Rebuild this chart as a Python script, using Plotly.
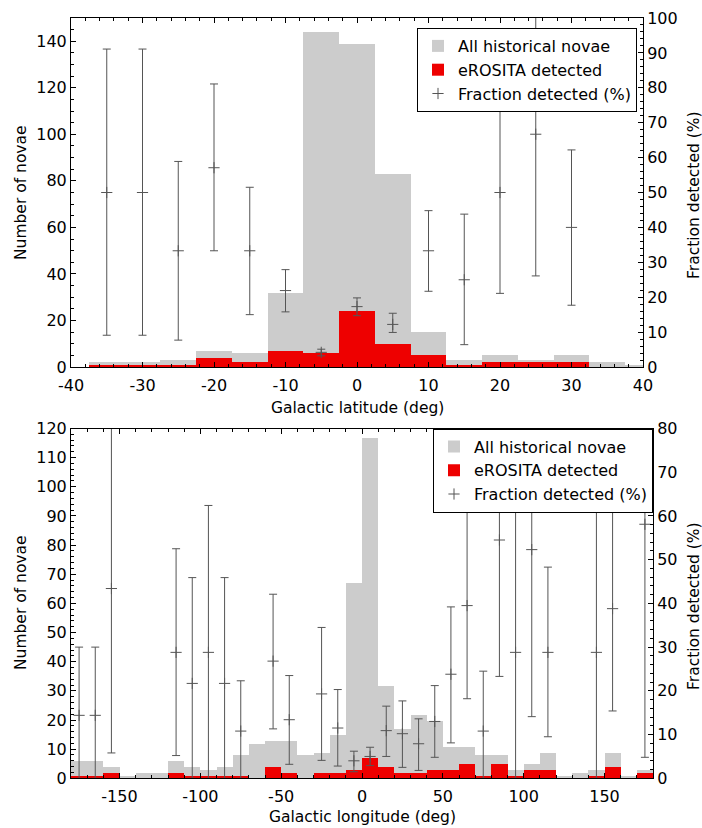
import plotly.graph_objects as go

W, H = 702, 828
FONT = "DejaVu Sans"
GRAY = "#cccccc"
RED = "#ee0000"
ERR = "#555555"

# ---- Galactic latitude histogram (5 deg bins) ----
lat_centers = [-35, -30, -25, -20, -15, -10, -5, 0, 5, 10, 15, 20, 25, 30, 35, 40]
lat_all = [2, 2, 3, 7, 6, 32, 144, 139, 83, 15, 3, 5, 3, 5, 2, 1]
lat_det = [1, 1, 1, 4, 2, 7, 6, 24, 10, 5, 1, 2, 2, 2, 0, 0]

# detected fraction (%) with lower / upper bounds
lat_frac_x = [-35, -30, -25, -20, -15, -10, -5, 0, 5, 10, 15, 20, 25, 30]
lat_frac = [50.0, 50.0, 33.3, 57.1, 33.3, 21.9, 4.2, 17.3, 12.2, 33.3, 25.0, 50.0, 66.7, 40.0]
lat_frac_lo = [9.1, 9.1, 7.7, 33.3, 15.0, 15.8, 3.2, 14.7, 9.9, 21.7, 6.4, 21.1, 26.1, 17.7]
lat_frac_hi = [91.1, 91.1, 58.9, 81.1, 51.5, 27.9, 5.1, 19.8, 15.4, 44.8, 43.8, 79.0, 107.0, 62.2]

lat_ticks = [-40, -30, -20, -10, 0, 10, 20, 30, 40]
lat_ticktext = ["-40", "-30", "-20", "-10", "0", "10", "20", "30", "40"]

# ---- Galactic longitude histogram (10 deg bins) ----
lon_centers = [-175, -165, -155, -145, -135, -125, -115, -105, -95, -85, -75, -65,
               -55, -45, -35, -25, -15, -5, 5, 15, 25, 35, 45, 55,
               65, 75, 85, 95, 105, 115, 125, 135, 145, 155, 165, 175]
lon_all = [6, 6, 4, 1, 2, 2, 6, 4, 3, 4, 8, 12,
           13, 13, 8, 9, 15, 67, 117, 32, 17, 22, 20, 11,
           11, 8, 8, 3, 5, 9, 1, 2, 3, 9, 1, 3]
lon_det = [1, 1, 2, 0, 0, 0, 2, 1, 1, 1, 1, 0,
           4, 2, 0, 2, 2, 3, 7, 4, 2, 2, 3, 3,
           5, 1, 5, 1, 3, 3, 0, 0, 1, 4, 0, 2]

lon_frac_x = [-175, -165, -155, -115, -105, -95, -85, -75, -55, -45, -25, -15, -5,
              5, 15, 25, 35, 45, 55, 65, 75, 85, 95, 105, 115, 145, 155, 175]
lon_frac = [14.4, 14.4, 43.4, 28.8, 21.7, 28.8, 21.7, 10.8, 26.8, 13.4, 19.3, 11.5, 4.0,
            5.0, 10.9, 10.2, 7.9, 13.0, 23.8, 39.5, 10.8, 54.5, 28.8, 52.3, 28.8, 28.8, 38.8, 58.1]
lon_frac_lo = [0.0, 0.0, 5.8, 5.2, 0.0, 0.0, 0.0, 0.0, 11.3, 3.2, 4.1, 2.8, 1.5,
               2.9, 5.0, 2.5, 1.8, 4.8, 8.1, 18.2, 0.0, 23.3, 0.0, 14.1, 9.5, 0.0, 15.4, 4.8]
lon_frac_hi = [30.0, 30.0, 100.0, 52.5, 45.9, 62.4, 45.9, 22.3, 42.1, 23.5, 34.5, 20.3, 6.2,
               7.1, 16.5, 17.7, 13.6, 21.2, 39.2, 60.9, 24.5, 86.0, 63.5, 90.0, 48.3, 63.5, 62.2, 95.0]

lon_ticks = [-150, -100, -50, 0, 50, 100, 150]
lon_ticktext = ["-150", "-100", "-50", "0", "50", "100", "150"]


def fx(p):
    return p / W


def fy(p):
    return 1 - p / H


def err(center, lo, hi):
    return dict(type="data", symmetric=False,
                array=[h - c for c, h in zip(center, hi)],
                arrayminus=[c - l for c, l in zip(center, lo)],
                color=ERR, thickness=1, width=4)


fig = go.Figure()

# top panel
fig.add_trace(go.Bar(x=lat_centers, y=lat_all, width=5, name="All historical novae",
                     marker=dict(color=GRAY, line=dict(width=0)),
                     xaxis="x", yaxis="y", legend="legend"))
fig.add_trace(go.Bar(x=lat_centers, y=lat_det, width=5, name="eROSITA detected",
                     marker=dict(color=RED, line=dict(width=0)),
                     xaxis="x", yaxis="y", legend="legend"))
fig.add_trace(go.Scatter(x=lat_frac_x, y=lat_frac, mode="markers", name="Fraction detected (%)",
                         marker=dict(symbol="cross-thin", size=8, color=ERR,
                                     line=dict(width=1, color=ERR)),
                         error_y=err(lat_frac, lat_frac_lo, lat_frac_hi),
                         xaxis="x", yaxis="y2", legend="legend"))

# bottom panel
fig.add_trace(go.Bar(x=lon_centers, y=lon_all, width=10, name="All historical novae",
                     marker=dict(color=GRAY, line=dict(width=0)),
                     xaxis="x2", yaxis="y3", legend="legend2"))
fig.add_trace(go.Bar(x=lon_centers, y=lon_det, width=10, name="eROSITA detected",
                     marker=dict(color=RED, line=dict(width=0)),
                     xaxis="x2", yaxis="y3", legend="legend2"))
fig.add_trace(go.Scatter(x=lon_frac_x, y=lon_frac, mode="markers", name="Fraction detected (%)",
                         marker=dict(symbol="cross-thin", size=8, color=ERR,
                                     line=dict(width=1, color=ERR)),
                         error_y=err(lon_frac, lon_frac_lo, lon_frac_hi),
                         xaxis="x2", yaxis="y4", legend="legend2"))

tickfont = dict(family=FONT, size=16, color="black")
common = dict(showline=True, linecolor="black", linewidth=1, ticks="inside",
              ticklen=5, tickcolor="black", showgrid=False, zeroline=False,
              tickfont=tickfont)

legend_style = dict(bgcolor="white", bordercolor="black", borderwidth=1,
                    font=dict(family=FONT, size=16, color="black"),
                    xanchor="right", yanchor="top", tracegroupgap=0)

fig.update_layout(
    width=W, height=H, template="none",
    paper_bgcolor="white", plot_bgcolor="white",
    margin=dict(l=0, r=0, t=0, b=0),
    barmode="overlay", bargap=0,
    font=dict(family=FONT, size=16, color="black"),
    xaxis=dict(domain=[fx(71), fx(643)], anchor="y", range=[-40, 40],
               tickvals=lat_ticks, ticktext=lat_ticktext, mirror="ticks",
               ticklabelstandoff=4,
               minor=dict(dtick=2, ticklen=3, ticks="inside", tickcolor="black"), **common),
    yaxis=dict(domain=[fy(367), fy(18)], anchor="x", range=[0, 150],
               tickvals=[0, 20, 40, 60, 80, 100, 120, 140],
               minor=dict(dtick=5, ticklen=3, ticks="inside", tickcolor="black"), **common),
    yaxis2=dict(overlaying="y", side="right", anchor="x", range=[0, 100], dtick=10,
                minor=dict(dtick=2, ticklen=3, ticks="inside", tickcolor="black"), **common),
    xaxis2=dict(domain=[fx(71), fx(653)], anchor="y3", range=[-180, 180],
                tickvals=lon_ticks, ticktext=lon_ticktext, mirror="ticks",
                ticklabelstandoff=3,
                minor=dict(dtick=10, ticklen=3, ticks="inside", tickcolor="black"), **common),
    yaxis3=dict(domain=[fy(778.3), fy(428.5)], anchor="x2", range=[0, 120], dtick=10,
                minor=dict(dtick=2, ticklen=3, ticks="inside", tickcolor="black"), **common),
    yaxis4=dict(overlaying="y3", side="right", anchor="x2", range=[0, 80], dtick=10,
                minor=dict(dtick=2, ticklen=3, ticks="inside", tickcolor="black"), **common),
    legend=dict(x=fx(637), y=fy(28), **legend_style),
    legend2=dict(x=fx(653), y=fy(428.5), **legend_style),
    showlegend=True,
)

title_font = dict(family=FONT, size=15.5, color="black")
titles = [
    ("Number of novae", fx(21), fy(193), -90),
    ("Fraction detected (%)", fx(694), fy(195), -90),
    ("Galactic latitude (deg)", fx(357), fy(408), 0),
    ("Number of novae", fx(21), fy(603), -90),
    ("Fraction detected (%)", fx(694), fy(606), -90),
    ("Galactic longitude (deg)", fx(362), fy(817), 0),
]
for text, x, y, ang in titles:
    fig.add_annotation(text=text, x=x, y=y, xref="paper", yref="paper",
                       xanchor="center", yanchor="middle", showarrow=False,
                       textangle=ang, font=title_font)

fig.write_html("out.html")
